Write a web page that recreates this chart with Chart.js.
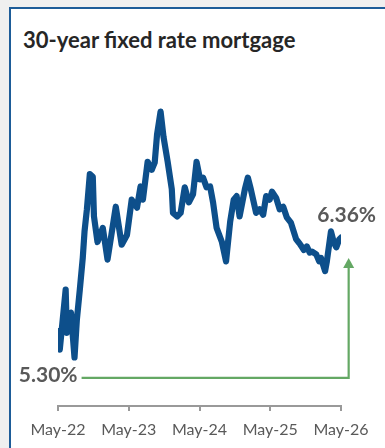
<!DOCTYPE html>
<html>
<head>
<meta charset="utf-8">
<script src="https://cdn.jsdelivr.net/npm/chart.js@4.4.1/dist/chart.umd.min.js"></script>
<style>
  html, body { margin: 0; padding: 0; background: #efefef; }
  #panel {
    position: absolute; left: 9px; top: 7px; width: 420px; height: 480px;
    background: #fff; border-left: 2px solid #1d5c98; border-top: 2px solid #1d5c98;
  }
  #title {
    position: absolute; left: 23px; top: 26px; margin: 0;
    font: bold 22px Lato, sans-serif; color: #262626; white-space: nowrap;
  }
  #wrap { position: absolute; left: 0; top: 0; width: 385px; height: 448px; }
</style>
</head>
<body>
<div id="panel"></div>
<h1 id="title">30-year fixed rate mortgage</h1>
<div id="wrap"><canvas id="rateChart"></canvas></div>
<script>
// months since May 2022
const months = [0, 0.3, 1.3, 1.5, 2.2, 2.8, 3.2, 3.7, 4.2, 4.5, 4.9, 5.4, 5.9, 6.1, 6.7, 7.6,
  8.4, 9.8, 10.8, 11.7, 12.5, 13.4, 14.0, 14.4, 15.2, 15.9, 16.4, 16.8, 17.4, 17.9, 18.6,
  19.3, 19.5, 20.2, 20.8, 21.5, 22.2, 22.9, 23.5, 24.1, 24.6, 25.2, 25.8, 26.3, 26.9, 27.8,
  28.5, 29.2, 29.8, 30.3, 30.8, 31.7, 32.2, 32.7, 33.6, 34.2, 34.8, 35.3, 35.9, 36.3, 37.0,
  37.6, 38.2, 38.8, 39.5, 40.4, 40.9, 41.4, 41.7, 42.2, 42.7, 43.1, 43.8, 44.3, 44.6, 45.3,
  45.6, 46.3, 46.8, 47.2, 47.7, 48.0];
const rates = [5.30, 5.09, 5.77, 5.28, 5.51, 5.00, 5.43, 5.77, 6.13, 6.43, 6.68, 7.08, 7.05, 6.60, 6.31, 6.47,
  6.11, 6.71, 6.28, 6.39, 6.79, 6.70, 6.94, 6.79, 7.22, 7.13, 7.21, 7.53, 7.79, 7.50, 7.22,
  6.91, 6.64, 6.60, 6.64, 6.93, 6.76, 6.85, 7.22, 7.02, 7.04, 6.93, 6.94, 6.76, 6.47, 6.31,
  6.09, 6.54, 6.79, 6.83, 6.60, 6.91, 7.04, 6.91, 6.64, 6.68, 6.62, 6.83, 6.79, 6.88, 6.81,
  6.68, 6.71, 6.59, 6.53, 6.34, 6.30, 6.25, 6.22, 6.26, 6.19, 6.20, 6.17, 6.09, 6.13, 5.98,
  6.09, 6.43, 6.30, 6.25, 6.34, 6.36];
const tickMonths = [0, 12, 24, 36, 48];
const tickLabels = ['May-22', 'May-23', 'May-24', 'May-25', 'May-26'];

// where the green change marker sits (in axis units)
const marker = { fromMonth: 4.0, toMonth: 49.3, baseRate: 4.77, tipRate: 6.13 };

const points = months.map((m, i) => ({ x: m, y: rates[i] }));

const changeMarker = {
  id: 'changeMarker',
  afterDatasetsDraw(chart) {
    const ctx = chart.ctx;
    const xs = chart.scales.x, ys = chart.scales.y;
    const x0 = xs.getPixelForValue(marker.fromMonth);
    const x1 = xs.getPixelForValue(marker.toMonth);
    const yb = ys.getPixelForValue(marker.baseRate);
    const yt = ys.getPixelForValue(marker.tipRate);
    const yLast = ys.getPixelForValue(rates[rates.length - 1]);
    ctx.save();
    ctx.strokeStyle = '#64a864';
    ctx.fillStyle = '#64a864';
    ctx.lineWidth = 2.2;
    ctx.beginPath();
    ctx.moveTo(x0, yb);
    ctx.lineTo(x1, yb);
    ctx.lineTo(x1, yt + 9);
    ctx.stroke();
    ctx.beginPath();
    ctx.moveTo(x1, yt);
    ctx.lineTo(x1 - 5.5, yt + 10);
    ctx.lineTo(x1 + 5.5, yt + 10);
    ctx.closePath();
    ctx.fill();

    ctx.fillStyle = '#595959';
    ctx.font = 'bold 21px Lato, sans-serif';
    ctx.textBaseline = 'alphabetic';
    ctx.textAlign = 'right';
    ctx.fillText(rates[0].toFixed(2) + '%', x0 - 4, yb + 4.5);
    ctx.textAlign = 'center';
    ctx.fillText(rates[rates.length - 1].toFixed(2) + '%', x1 - 2, yLast - 16);
    ctx.restore();
  }
};

new Chart(document.getElementById('rateChart'), {
  type: 'line',
  data: {
    datasets: [{
      data: points,
      borderColor: '#0d4f8b',
      borderWidth: 6.2,
      borderJoinStyle: 'round',
      borderCapStyle: 'round',
      pointRadius: 0,
      tension: 0,
      fill: false
    }]
  },
  options: {
    responsive: true,
    maintainAspectRatio: false,
    animation: false,
    layout: { padding: { left: 58, right: 44, top: 93, bottom: 2 } },
    plugins: { legend: { display: false }, tooltip: { enabled: false } },
    scales: {
      x: {
        type: 'linear', min: 0, max: 48,
        afterBuildTicks: (axis) => { axis.ticks = tickMonths.map(v => ({ value: v })); },
        afterFit: (axis) => { axis.height = 40; },
        ticks: {
          callback: (v) => tickLabels[tickMonths.indexOf(v)],
          color: '#595959', font: { family: 'Lato', size: 16 }, padding: 9, maxRotation: 0
        },
        grid: { drawOnChartArea: false, drawTicks: true, tickLength: 5, color: '#999', lineWidth: 2 },
        border: { display: true, color: '#999', width: 2 }
      },
      y: { display: false, min: 4.45, max: 8.0 }
    }
  },
  plugins: [changeMarker]
});
</script>
</body>
</html>
